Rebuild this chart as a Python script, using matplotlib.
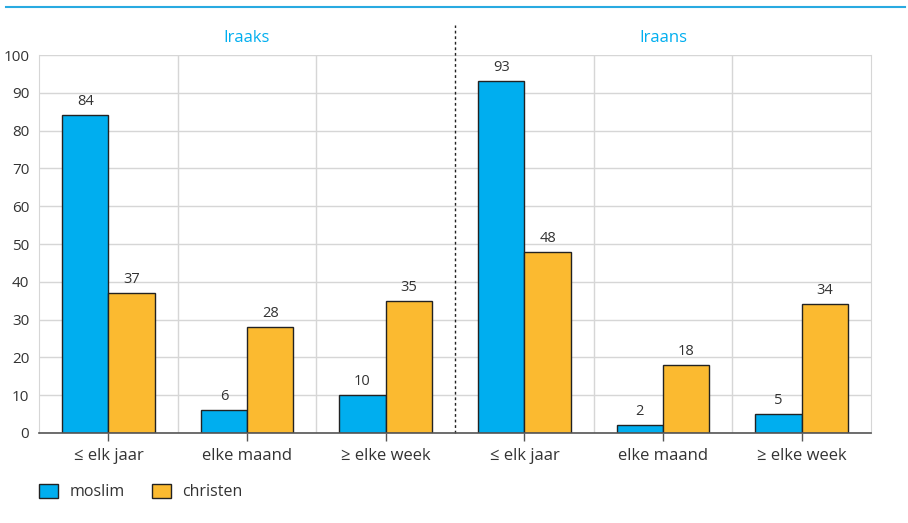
import numpy as np
import matplotlib.pyplot as plt
from matplotlib.patches import Patch
from matplotlib.lines import Line2D

categories = ["≤ elk jaar", "elke maand", "≥ elke week", "≤ elk jaar", "elke maand", "≥ elke week"]
groups = ["Iraaks", "Iraans"]
moslim = [84, 6, 10, 93, 2, 5]
christen = [37, 28, 35, 48, 18, 34]

BLUE = "#00aeef"
ORANGE = "#fbba30"
TEXT = "#333333"
GRID = "#d6d6d6"

plt.rcParams["font.family"] = ["Open Sans", "DejaVu Sans"]

fig = plt.figure(figsize=(9.08, 5.23), dpi=100)
ax = fig.add_axes([0.043, 0.1721, 0.9163, 0.7227])

x = np.arange(len(categories))
w = 0.335
b1 = ax.bar(x - w / 2, moslim, w, color=BLUE, edgecolor="#222222", linewidth=1, zorder=3)
b2 = ax.bar(x + w / 2, christen, w, color=ORANGE, edgecolor="#222222", linewidth=1, zorder=3)

for bars, vals in ((b1, moslim), (b2, christen)):
    for r, v in zip(bars, vals):
        ax.text(r.get_x() + r.get_width() / 2, v + 1.6, str(v), ha="center", va="bottom",
                fontsize=10.5, color=TEXT)

ax.set_xlim(-0.5, 5.5)
ax.set_ylim(0, 100)
ax.set_yticks(range(0, 101, 10))
ax.set_xticks(x)
ax.set_xticklabels(categories, fontsize=12, color=TEXT)
ax.tick_params(axis="x", length=6, width=1, color="#555555", pad=5)
ax.tick_params(axis="y", length=0, labelsize=11, labelcolor=TEXT, pad=7)

ax.grid(axis="y", color=GRID, linewidth=1, zorder=0)
for xv in [0.5, 1.5, 3.5, 4.5]:
    ax.axvline(xv, color=GRID, linewidth=1, zorder=0)

for s in ["top", "right", "left"]:
    ax.spines[s].set_color(GRID)
ax.spines["top"].set_visible(False)
ax.spines["bottom"].set_color("#555555")
ax.spines["bottom"].set_linewidth(1.2)
ax.spines["bottom"].set_zorder(4)

# dotted separator between groups, extending above the plot
ax.plot([2.5, 2.5], [0, 108], color="#222222", linestyle=(0, (2, 2)), linewidth=1,
        clip_on=False, zorder=4)

for i, g in enumerate(groups):
    ax.text(1 + 3 * i, 104.5, g, ha="center", va="center", fontsize=12, color=BLUE,
            clip_on=False)

# top blue rule
fig.add_artist(Line2D([6 / 908, 905 / 908], [1 - 7 / 523, 1 - 7 / 523], color="#29aae1",
                      linewidth=1.5))

handles = [Patch(facecolor=BLUE, edgecolor="#222222", label="moslim"),
           Patch(facecolor=ORANGE, edgecolor="#222222", label="christen")]
fig.legend(handles=handles, loc="center left", bbox_to_anchor=(39 / 908, 1 - 492 / 523),
           ncol=2, frameon=False, fontsize=11.5, handlelength=1.2, handleheight=1.0,
           columnspacing=1.7, handletextpad=0.7, labelcolor=TEXT,
           borderpad=0, borderaxespad=0)

fig.savefig("out.png", dpi=100)
